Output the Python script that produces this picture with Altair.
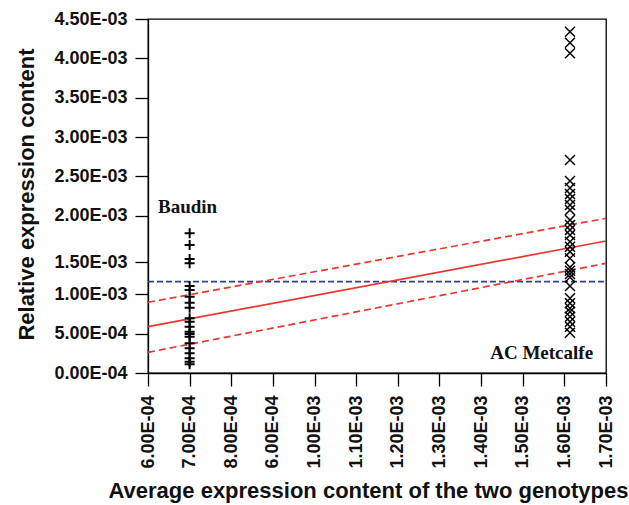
import altair as alt
import pandas as pd

# ---- data ----
baudin_x = 0.0007
baudin_y = [1.776, 1.627, 1.449, 1.394, 1.106, 1.055, 0.970, 0.894, 0.830, 0.695,
            0.652, 0.589, 0.525, 0.496, 0.461, 0.378, 0.314, 0.250, 0.187, 0.144, 0.111]
metcalfe_x = 0.0016135
metcalfe_y = [4.338, 4.199, 4.064, 2.708, 2.441, 2.352, 2.275, 2.212, 2.135, 2.072,
              1.945, 1.881, 1.818, 1.754, 1.669, 1.605, 1.542, 1.458, 1.344, 1.300,
              1.258, 1.216, 1.106, 0.950, 0.886, 0.822, 0.779, 0.716, 0.652, 0.589, 0.512]

line_x = [0.0006, 0.0017]
fit_y = [0.589e-3, 1.678e-3]
upper_y = [0.899e-3, 1.966e-3]
lower_y = [0.263e-3, 1.394e-3]
ref_level = 1.161e-3

x_tick_values = [0.0006, 0.0007, 0.0008, 0.0009, 0.0010, 0.0011, 0.0012,
                 0.0013, 0.0014, 0.0015, 0.0016, 0.0017]
x_tick_labels = ["6.00E-04", "7.00E-04", "8.00E-04", "6.00E-04", "1.00E-03", "1.10E-03",
                 "1.20E-03", "1.30E-03", "1.40E-03", "1.50E-03", "1.60E-03", "1.70E-03"]
y_tick_values = [0.0, 0.0005, 0.0010, 0.00141, 0.0020, 0.0025, 0.0030, 0.0035, 0.0040, 0.0045]
y_tick_labels = ["0.00E-04", "5.00E-04", "1.00E-03", "1.50E-03", "2.00E-03", "2.50E-03",
                 "3.00E-03", "3.50E-03", "4.00E-03", "4.50E-03"]

labels_text = ["Baudin", "AC Metcalfe"]
labels_x = [0.000624, 0.001669]
labels_y = [2.11e-3, 0.254e-3]

# ---- tables ----
bdf = pd.DataFrame({"x": [baudin_x] * len(baudin_y), "y": [v * 1e-3 for v in baudin_y]})
mdf = pd.DataFrame({"x": [metcalfe_x] * len(metcalfe_y), "y": [v * 1e-3 for v in metcalfe_y]})
fit_df = pd.DataFrame({"x": line_x, "y": fit_y})
band_df = pd.DataFrame({"x": line_x * 2, "y": upper_y + lower_y,
                        "band": ["upper"] * 2 + ["lower"] * 2})
ref_df = pd.DataFrame({"x": line_x, "y": [ref_level] * 2})
txt_df = pd.DataFrame({"x": labels_x, "y": labels_y, "t": labels_text})


def label_expr(values, labels):
    parts = []
    for v, l in zip(values, labels):
        parts.append(f"abs(datum.value - {v}) < 0.00002 ? '{l}'")
    return " : ".join(parts) + " : ''"


xs = alt.Scale(domain=[0.0006, 0.0017], nice=False, zero=False)
ys = alt.Scale(domain=[0, 0.0045], nice=False, zero=False)

x_axis = alt.Axis(values=x_tick_values, labelExpr=label_expr(x_tick_values, x_tick_labels),
                  labelAngle=-90, labelPadding=9, title="Average expression content of the two genotypes",
                  titleX=220, titleY=124, titleBaseline="alphabetic", titleAnchor="middle", titleAlign="center")
y_axis = alt.Axis(values=y_tick_values, labelExpr=label_expr(y_tick_values, y_tick_labels),
                  labelPadding=8, title="Relative expression content",
                  titleX=-115, titleY=175, titleBaseline="alphabetic", titleAngle=-90, titleAlign="center")

X = alt.X("x:Q", scale=xs, axis=x_axis)
Y = alt.Y("y:Q", scale=ys, axis=y_axis)

plus_path = "M-1,0L1,0M0,-1L0,1"
cross_path = "M-1,-1L1,1M-1,1L1,-1"

baudin = alt.Chart(bdf).mark_point(shape=plus_path, size=100, filled=False, strokeWidth=2,
                                   color="black", opacity=1).encode(x=X, y=Y)
metcalfe = alt.Chart(mdf).mark_point(shape=cross_path, size=100, filled=False, strokeWidth=1.5,
                                     color="black", opacity=1).encode(x=X, y=Y)
fit = alt.Chart(fit_df).mark_line(color="#e8382f", strokeWidth=1.7).encode(x=X, y=Y)
bands = alt.Chart(band_df).mark_line(color="#e8382f", strokeWidth=1.7, strokeDash=[7, 4]).encode(
    x=X, y=Y, detail="band:N")
ref = alt.Chart(ref_df).mark_line(color="#2f3f9c", strokeWidth=1.6, strokeDash=[6, 3]).encode(x=X, y=Y)

text_b = alt.Chart(txt_df.iloc[[0]]).mark_text(font="Liberation Serif", fontWeight="bold", fontSize=19,
                                               baseline="middle", align="left", color="#111").encode(
    x=X, y=Y, text="t:N")
text_m = alt.Chart(txt_df.iloc[[1]]).mark_text(font="Liberation Serif", fontWeight="bold", fontSize=19,
                                               baseline="middle", align="right", color="#111").encode(
    x=X, y=Y, text="t:N")

chart = alt.layer(ref, bands, fit, baudin, metcalfe, text_b, text_m).properties(
    width=458, height=354,
    background="white",
    autosize=alt.AutoSizeParams(type="none"),
    padding={"left": 148, "top": 19, "right": 23, "bottom": 132},
).configure_view(stroke="black", strokeWidth=1.3).configure_axis(
    labelFont="Liberation Sans", labelFontWeight="bold", labelFontSize=18, labelColor="#111",
    titleFont="Liberation Sans", titleFontWeight="bold", titleFontSize=22, titleColor="#111",
    tickSize=13, tickColor="black", tickWidth=1.3, domainColor="black", domainWidth=1.3,
    grid=False, labelOverlap=False, labelBound=False, labelFlush=False
)

chart.save("out.html", embed_options={"renderer": "svg", "actions": False})
